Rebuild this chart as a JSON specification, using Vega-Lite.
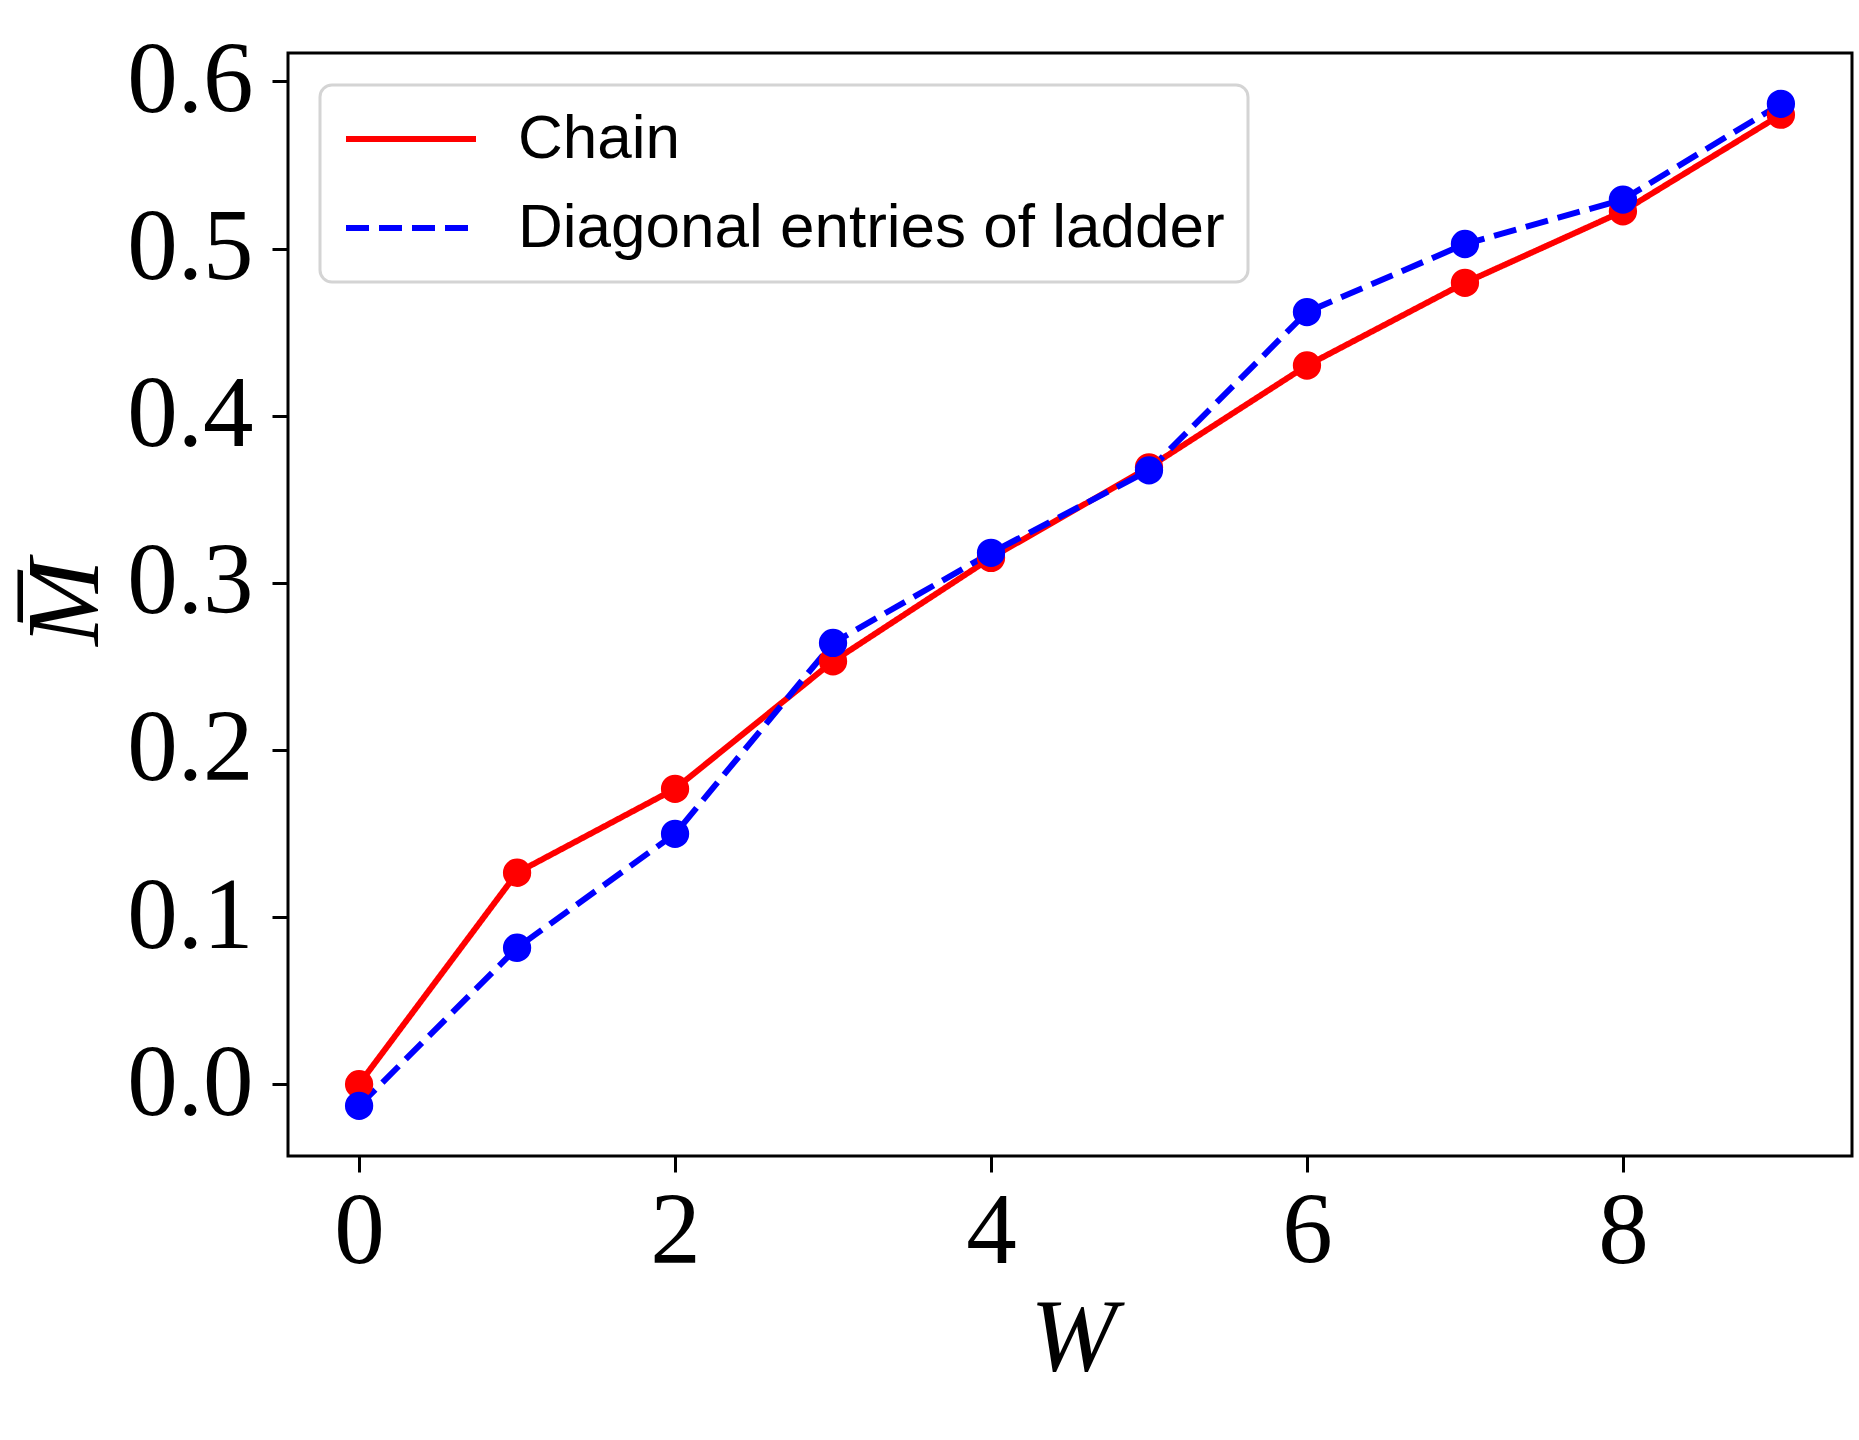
{
  "$schema": "https://vega.github.io/schema/vega-lite/v6.json",
  "width": 1564,
  "height": 1103,
  "autosize": "none",
  "padding": {"left": 288, "top": 53, "right": 7, "bottom": 284},
  "background": "white",
  "config": {
    "view": {"stroke": "black", "strokeWidth": 3},
    "axis": {
      "grid": false,
      "domain": false,
      "tickColor": "black",
      "tickWidth": 3,
      "tickSize": 16,
      "labelFont": "Liberation Serif",
      "labelFontSize": 101,
      "labelColor": "black",
      "titleFont": "Liberation Serif",
      "titleFontSize": 104,
      "titleFontWeight": "normal",
      "titleFontStyle": "italic",
      "titleColor": "black"
    },
    "legend": {
      "orient": "top-left",
      "offset": 32,
      "padding": 23,
      "fillColor": "white",
      "strokeColor": "#d4d4d4",
      "strokeWidth": 3,
      "cornerRadius": 12,
      "labelFont": "Liberation Sans",
      "labelFontSize": 62,
      "labelColor": "black",
      "labelLimit": 0,
      "symbolType": "stroke",
      "symbolSize": 16900,
      "symbolStrokeWidth": 6,
      "labelOffset": 39,
      "clipHeight": 62,
      "rowPadding": 27
    }
  },
  "data": {
    "values": [
      {"W": 0, "M": 0.000, "series": "Chain"},
      {"W": 1, "M": 0.1265, "series": "Chain"},
      {"W": 2, "M": 0.1767, "series": "Chain"},
      {"W": 3, "M": 0.2530, "series": "Chain"},
      {"W": 4, "M": 0.3149, "series": "Chain"},
      {"W": 5, "M": 0.3691, "series": "Chain"},
      {"W": 6, "M": 0.4300, "series": "Chain"},
      {"W": 7, "M": 0.4795, "series": "Chain"},
      {"W": 8, "M": 0.5223, "series": "Chain"},
      {"W": 9, "M": 0.5801, "series": "Chain"},
      {"W": 0, "M": -0.013, "series": "Diagonal entries of ladder"},
      {"W": 1, "M": 0.0816, "series": "Diagonal entries of ladder"},
      {"W": 2, "M": 0.1498, "series": "Diagonal entries of ladder"},
      {"W": 3, "M": 0.2640, "series": "Diagonal entries of ladder"},
      {"W": 4, "M": 0.3179, "series": "Diagonal entries of ladder"},
      {"W": 5, "M": 0.3673, "series": "Diagonal entries of ladder"},
      {"W": 6, "M": 0.4620, "series": "Diagonal entries of ladder"},
      {"W": 7, "M": 0.5027, "series": "Diagonal entries of ladder"},
      {"W": 8, "M": 0.5293, "series": "Diagonal entries of ladder"},
      {"W": 9, "M": 0.5866, "series": "Diagonal entries of ladder"}
    ]
  },
  "mark": {
    "type": "line",
    "strokeWidth": 6,
    "point": {"filled": true, "size": 800, "opacity": 1}
  },
  "encoding": {
    "x": {
      "field": "W",
      "type": "quantitative",
      "scale": {"domain": [-0.45, 9.45], "nice": false, "zero": false},
      "axis": {
        "values": [0, 2, 4, 6, 8],
        "title": "W",
        "labelPadding": 10,
        "labelFlush": false,
        "titleX": 785,
        "titleY": 213,
        "titleAlign": "center",
        "titleBaseline": "alphabetic"
      }
    },
    "y": {
      "field": "M",
      "type": "quantitative",
      "scale": {"domain": [-0.043, 0.617], "nice": false, "zero": false},
      "axis": {
        "values": [0, 0.1, 0.2, 0.3, 0.4, 0.5, 0.6],
        "format": ".1f",
        "title": "M̅",
        "labelPadding": 19,
        "labelFlush": false,
        "titleX": -191,
        "titleY": 549,
        "titleAlign": "center",
        "titleBaseline": "alphabetic"
      }
    },
    "color": {
      "field": "series",
      "type": "nominal",
      "scale": {"domain": ["Chain", "Diagonal entries of ladder"], "range": ["#ff0000", "#0000ff"]},
      "legend": {"title": null}
    },
    "strokeDash": {
      "field": "series",
      "type": "nominal",
      "scale": {"domain": ["Chain", "Diagonal entries of ladder"], "range": [[1, 0], [23, 10]]},
      "legend": {"title": null}
    }
  }
}
